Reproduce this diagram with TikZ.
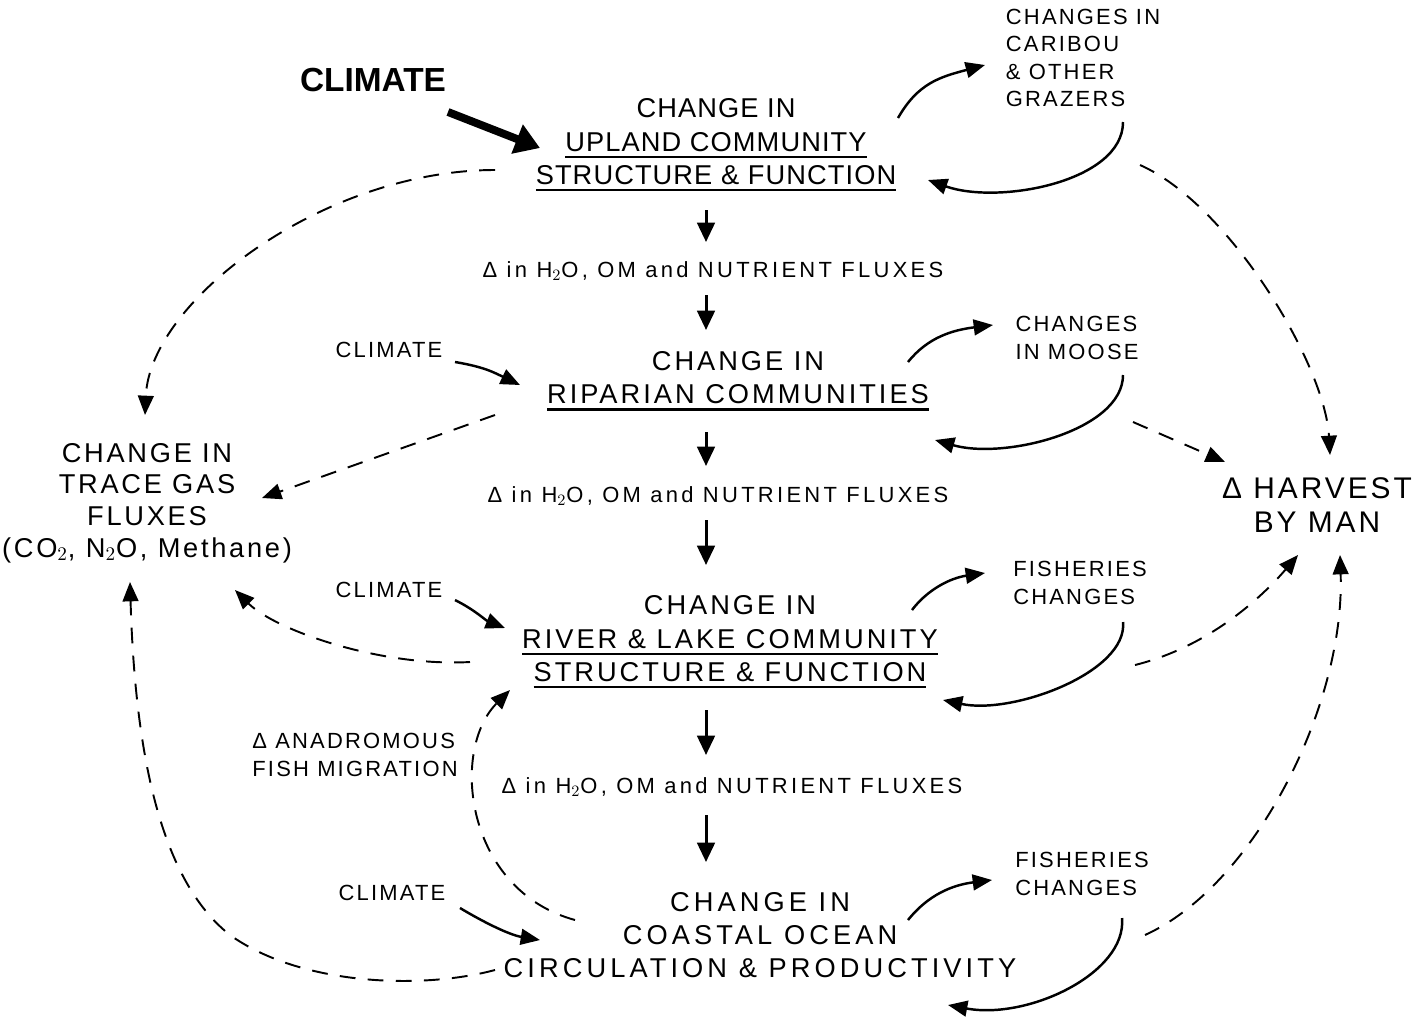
\documentclass[tikz,border=0pt]{standalone}
\usepackage{fontspec}
\setmainfont{Liberation Sans}
\newfontfamily\handnarrow[LetterSpace=4]{Liberation Sans}
\newfontfamily\handwide[LetterSpace=11]{Liberation Sans}
\newfontfamily\handwider[LetterSpace=15]{Liberation Sans}
\newfontfamily\handsmall[LetterSpace=10]{Liberation Sans}
\usetikzlibrary{arrows.meta}
% underline drawn a little below the text, heavier than \underline
\newcommand{\undl}[1]{\setbox0\hbox{#1}\vtop{\copy0\kern2.5pt\hrule height 1.3pt width \wd0}}

\begin{document}
\begin{tikzpicture}[x=0.02cm, y=-0.02cm,
  comm/.style={align=center, font=\fontsize{15.5}{19}\selectfont\handwide, inner sep=2pt},
  note/.style={align=left, font=\fontsize{12.5}{15.5}\selectfont\handsmall, inner sep=1pt},
  flux/.style={font=\fontsize{12.5}{15}\selectfont\handsmall, inner sep=2pt},
  link/.style={-{Triangle[length=11pt,width=9pt]}, line width=1.4pt},
  down/.style={-{Triangle[length=11pt,width=10pt]}, line width=1.7pt},
  feed/.style={-{Triangle[length=11pt,width=9pt]}, line width=1.1pt, dash pattern=on 9pt off 7pt}]

\useasboundingbox (0,0) rectangle (1425,1018);

%--- main chain ---
\node[font=\fontsize{19}{22}\selectfont\bfseries] (climate) at (373,80) {CLIMATE};
\node[comm, font=\fontsize{15.5}{19}\selectfont\handnarrow] (upland) at (716,145) {CHANGE IN\\\undl{UPLAND COMMUNITY}\\\undl{STRUCTURE \& FUNCTION}};
\node[flux, font=\fontsize{12.5}{15}\selectfont\handwider] (flux1) at (713,271) {Δ in H$_2$O, OM and NUTRIENT FLUXES};
\node[comm] (riparian) at (738,381) {CHANGE IN\\\undl{RIPARIAN COMMUNITIES}};
\node[flux, font=\fontsize{12.5}{15}\selectfont\handwider] (flux2) at (718,496) {Δ in H$_2$O, OM and NUTRIENT FLUXES};
\node[comm] (river) at (730,642) {CHANGE IN\\\undl{RIVER \& LAKE COMMUNITY}\\\undl{STRUCTURE \& FUNCTION}};
\node[flux, font=\fontsize{12.5}{15}\selectfont\handwider] (flux3) at (732,787) {Δ in H$_2$O, OM and NUTRIENT FLUXES};
\node[comm, font=\fontsize{15.5}{19}\selectfont\handwider] (coastal) at (760,935) {CHANGE IN\\COASTAL OCEAN\\CIRCULATION \& PRODUCTIVITY};

%--- side effects ---
\node[note] (caribou) at (1083,58) {CHANGES IN\\CARIBOU\\\& OTHER\\GRAZERS};
\node[note] (moose) at (1077,338) {CHANGES\\IN MOOSE};
\node[note] (fish1) at (1080,583) {FISHERIES\\CHANGES};
\node[note] (fish2) at (1082,874) {FISHERIES\\CHANGES};
\node[note] (clim1) at (389,350) {CLIMATE};
\node[note] (clim2) at (389,590) {CLIMATE};
\node[note] (clim3) at (392,893) {CLIMATE};
\node[note] (anadrom) at (355,755) {Δ ANADROMOUS\\FISH MIGRATION};
\node[comm, font=\fontsize{15.5}{18}\selectfont\handsmall] (gas) at (147,503) {CHANGE IN\\TRACE GAS\\FLUXES\\(CO$_2$, N$_2$O, Methane)};
\node[comm, font=\fontsize{17}{19}\selectfont\handsmall] (harvest) at (1317,505) {Δ HARVEST\\BY MAN};

%--- downward fluxes ---
\draw[down] ([shift={(-10,65)}]upland.center) -- ([shift={(-7,-29)}]flux1.center);
\draw[down] ([shift={(-7,24)}]flux1.center) -- ([shift={(-32,-51)}]riparian.center);
\draw[down] ([shift={(-32,51)}]riparian.center) -- ([shift={(-12,-30)}]flux2.center);
\draw[down] ([shift={(-12,24)}]flux2.center) -- ([shift={(-24,-77)}]river.center);
\draw[down] ([shift={(-24,68)}]river.center) -- ([shift={(-26,-32)}]flux3.center);
\draw[down] ([shift={(-26,28)}]flux3.center) -- ([shift={(-54,-73)}]coastal.center);

%--- climate forcing ---
\draw[-{Triangle[length=14pt,width=17pt]}, line width=4.5pt] ([shift={(75,32)}]climate.center) -- ([shift={(-176,3)}]upland.center);
\draw[link] ([shift={(66,12)}]clim1.center) .. controls +(30,5) and +(-25,-12) .. ([shift={(-218,4)}]riparian.center);
\draw[link] ([shift={(66,10)}]clim2.center) .. controls +(20,10) and +(-20,-8) .. ([shift={(-225,-14)}]river.center);
\draw[link] ([shift={(68,15)}]clim3.center) .. controls +(25,15) and +(-30,-5) .. ([shift={(-220,5)}]coastal.center);

%--- feedback loops ---
\draw[link] ([shift={(182,-27)}]upland.center) .. controls +(20,-35) and +(-45,12) .. ([shift={(-98,7)}]caribou.center);
\draw[link] ([shift={(40,64)}]caribou.center) .. controls +(0,60) and +(70,25) .. ([shift={(212,35)}]upland.center);
\draw[link] ([shift={(170,-19)}]riparian.center) .. controls +(20,-25) and +(-40,5) .. ([shift={(-84,-13)}]moose.center);
\draw[link] ([shift={(46,37)}]moose.center) .. controls +(0,55) and +(70,20) .. ([shift={(197,59)}]riparian.center);
\draw[link] ([shift={(182,-32)}]river.center) .. controls +(15,-20) and +(-35,5) .. ([shift={(-95,-10)}]fish1.center);
\draw[link] ([shift={(43,39)}]fish1.center) .. controls +(5,50) and +(70,15) .. ([shift={(213,58)}]river.center);
\draw[link] ([shift={(148,-15)}]coastal.center) .. controls +(20,-25) and +(-40,5) .. ([shift={(-90,6)}]fish2.center);
\draw[link] ([shift={(40,44)}]fish2.center) .. controls +(5,55) and +(80,15) .. ([shift={(188,70)}]coastal.center);

%--- trace gas feedbacks ---
\draw[feed] ([shift={(-221,25)}]upland.center) .. controls +(-170,0) and +(5,-115) .. ([shift={(-2,-88)}]gas.center);
\draw[feed] ([shift={(-243,34)}]riparian.center) -- ([shift={(115,-5)}]gas.center);
\draw[feed] ([shift={(-260,20)}]river.center) .. controls +(-90,5) and +(40,40) .. ([shift={(88,87)}]gas.center);
\draw[feed] ([shift={(-265,35)}]coastal.center) .. controls +(-75,20) and +(70,50) .. ++(-265,-35) .. controls +(-70,-55) and +(5,170) .. ([shift={(-17,79)}]gas.center);
\draw[feed] ([shift={(-185,-15)}]coastal.center) .. controls +(-110,-30) and +(-60,60) .. ([shift={(-220,48)}]river.center);

%--- harvest feedbacks ---
\draw[feed] ([shift={(57,107)}]caribou.center) .. controls +(90,40) and +(-5,-90) .. ([shift={(13,-50)}]harvest.center);
\draw[feed] ([shift={(56,84)}]moose.center) -- ([shift={(-92,-43)}]harvest.center);
\draw[feed] ([shift={(55,82)}]fish1.center) .. controls +(80,-20) and +(-30,35) .. ([shift={(-19,50)}]harvest.center);
\draw[feed] ([shift={(63,61)}]fish2.center) .. controls +(110,-50) and +(5,150) .. ([shift={(23,50)}]harvest.center);
\end{tikzpicture}
\end{document}
